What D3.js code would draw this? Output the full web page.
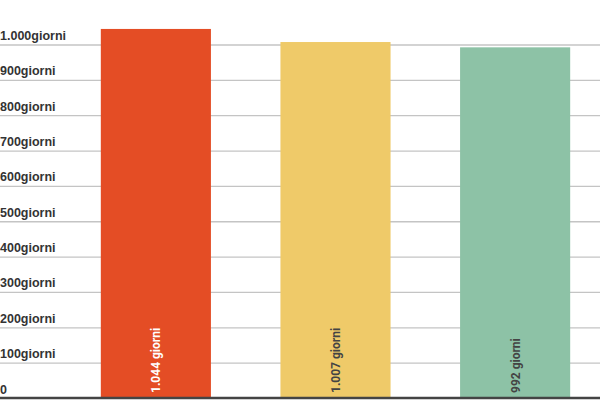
<!DOCTYPE html>
<html>
<head>
<meta charset="utf-8">
<script src="https://cdn.jsdelivr.net/npm/d3@7"></script>
<style>
  body { margin: 0; background: #fff; }
  svg { display: block; }
</style>
</head>
<body>
<svg id="canvas"></svg>
<script>
let width = 600,
height = 400

// data
let categories = ['A', 'B', 'C']
let values = [1044, 1007, 992]
let barColors = ['#e44d25', '#efca69', '#8dc2a6']
let labelColors = ['#ffffff', '#444444', '#444444']
let tickValues = [0, 100, 200, 300, 400, 500, 600, 700, 800, 900, 1000]

let it = d3.formatLocale({ decimal: ',', thousands: '.', grouping: [3], currency: ['€', ''] })
let fmt = it.format(',d')

let canvas = d3.select('#canvas')
.attr('width', width)
.attr('height', height)

let y = d3.scaleLinear()
.domain([0, 1000])
.range([398, 44.5])

let x = d3.scaleBand()
.domain(categories)
.range([11, 660])
.paddingInner(0.387)
.paddingOuter(0.5)

// gridlines + tick labels
let yAxis = d3.axisLeft(y)
.tickValues(tickValues)
.tickSize(-width)
.tickFormat((d) => d === 0 ? '0' : fmt(d) + 'giorni')

let gAxis = canvas.append('g')
.attr('transform', `translate(${width}, 0)`)
.call(yAxis)

gAxis.select('.domain').remove()
gAxis.selectAll('.tick line')
.attr('transform', `translate(${-width}, 0)`)
.attr('x1', 0)
.attr('x2', width)
.attr('stroke-width', 1.3)
.attr('stroke', (d) => d === 0 ? 'none' : '#c4c4c4')

gAxis.selectAll('.tick text')
.attr('x', -width)
.attr('dy', -5)
.attr('text-anchor', 'start')
.attr('fill', '#333')
.style('font-family', '"Liberation Sans", Arial, sans-serif')
.style('font-weight', 'bold')
.style('font-size', '12.5px')

// bars
canvas.selectAll('rect.bar')
.data(values)
.join('rect')
.attr('class', 'bar')
.attr('x', (d, i) => x(categories[i]))
.attr('y', (d) => y(d))
.attr('width', x.bandwidth())
.attr('height', (d) => y(0) - y(d))
.attr('fill', (d, i) => barColors[i])

// value labels inside bars
canvas.selectAll('text.val')
.data(values)
.join('text')
.attr('class', 'val')
.attr('transform', (d, i) => `translate(${x(categories[i]) + x.bandwidth() / 2 + 4.5}, ${y(0) - 5}) rotate(-90)`)
.attr('text-anchor', 'start')
.attr('fill', (d, i) => labelColors[i])
.style('font-family', 'Roboto, sans-serif')
.style('font-weight', 'bold')
.style('font-size', '12px')
.text((d) => fmt(d) + ' giorni')

// baseline
canvas.append('line')
.attr('x1', 0)
.attr('x2', width)
.attr('y1', y(0))
.attr('y2', y(0))
.attr('stroke', '#444')
.attr('stroke-width', 2.5)
</script>
</body>
</html>
